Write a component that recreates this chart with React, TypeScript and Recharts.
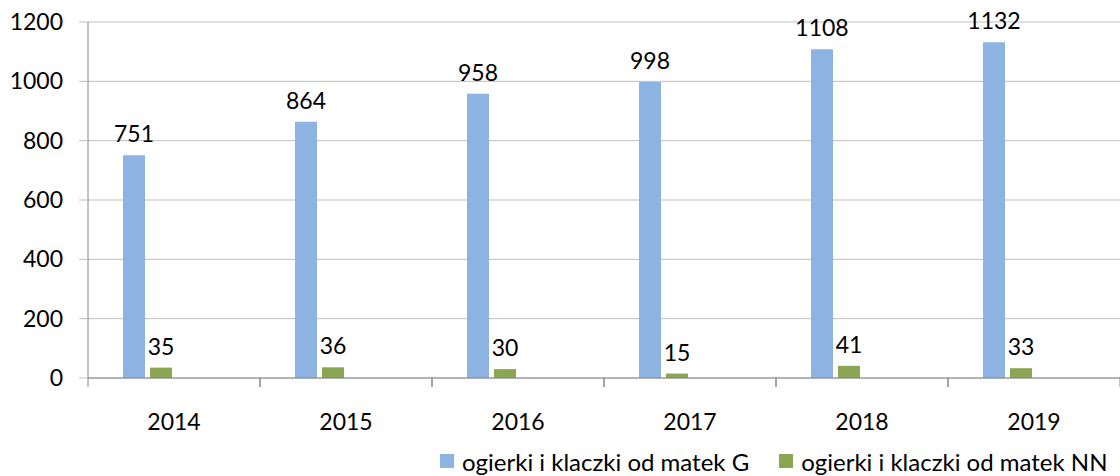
import React from 'react';
import { BarChart, Bar, XAxis, YAxis, CartesianGrid, Legend, LabelList } from 'recharts';

// lata
const years = ['2014', '2015', '2016', '2017', '2018', '2019'];
// ogierki i klaczki od matek G
const seriesG = [751, 864, 958, 998, 1108, 1132];
// ogierki i klaczki od matek NN
const seriesNN = [35, 36, 30, 15, 41, 33];
const yTicks = [0, 200, 400, 600, 800, 1000, 1200];

const nameG = 'ogierki i klaczki od matek G';
const nameNN = 'ogierki i klaczki od matek NN';

const data = years.map((year, i) => ({ year, g: seriesG[i], nn: seriesNN[i] }));

const W = 1120;
const H = 476;
const LEFT = 88;
const FONT = 'Lato, "Open Sans", sans-serif';
const BAND = (W - LEFT) / years.length;

const XTick = (props: any) => {
  const { x, y, payload } = props;
  return (
    <g>
      <line x1={x - BAND / 2} x2={x - BAND / 2} y1={y} y2={y + 9} stroke="#868686" />
      <line x1={x + BAND / 2} x2={x + BAND / 2} y1={y} y2={y + 9} stroke="#868686" />
      <text x={x} y={y + 52} textAnchor="middle" fontSize={23} fontFamily={FONT} fill="#000">
        {payload.value}
      </text>
    </g>
  );
};

const LegendContent = (props: any) => {
  const items = (props.payload || []).filter((p: any) => p.type !== 'none');
  return (
    <div style={{ display: 'flex', alignItems: 'center', height: 30, whiteSpace: 'nowrap', fontFamily: FONT, fontSize: 24, color: '#000' }}>
      {items.map((p: any) => (
        <div key={p.value} style={{ display: 'flex', alignItems: 'center', marginRight: 30 }}>
          <span style={{ display: 'inline-block', width: 14, height: 14, background: p.color, marginRight: 8 }} />
          <span>{p.value}</span>
        </div>
      ))}
    </div>
  );
};

export default function App() {
  return (
    <div style={{ position: 'absolute', left: 0, top: 0, width: W, height: H, overflow: 'hidden', background: '#fff' }}>
      <BarChart
        width={W}
        height={H}
        data={data}
        margin={{ top: 22, right: 0, left: 0, bottom: 0 }}
        barSize={22}
        barGap={5}
      >
        <CartesianGrid vertical={false} stroke="#bfbfbf" />
        <XAxis
          dataKey="year"
          height={68}
          tickLine={false}
          tickSize={0}
          tickMargin={0}
          axisLine={{ stroke: '#868686' }}
          tick={<XTick />}
          interval={0}
        />
        <YAxis
          width={LEFT}
          domain={[0, 1200]}
          ticks={yTicks}
          tickSize={9}
          tickMargin={16}
          tickLine={{ stroke: '#bfbfbf' }}
          axisLine={{ stroke: '#868686' }}
          tick={{ fontSize: 23, fontFamily: FONT, fill: '#000' }}
        />
        <Legend
          verticalAlign="bottom"
          height={30}
          content={<LegendContent />}
          wrapperStyle={{ left: 440, width: 900, top: 446 }}
        />
        <Bar dataKey="g" name={nameG} fill="#8DB3E2" isAnimationActive={false}>
          <LabelList dataKey="g" position="top" offset={13} fontSize={23} fontFamily={FONT} fill="#000" />
        </Bar>
        <Bar dataKey="nn" name={nameNN} fill="#8AA652" isAnimationActive={false}>
          <LabelList dataKey="nn" position="top" offset={13} fontSize={23} fontFamily={FONT} fill="#000" />
        </Bar>
        <Bar dataKey="pad1" legendType="none" fill="none" isAnimationActive={false} />
        <Bar dataKey="pad2" legendType="none" fill="none" isAnimationActive={false} />
      </BarChart>
    </div>
  );
}
